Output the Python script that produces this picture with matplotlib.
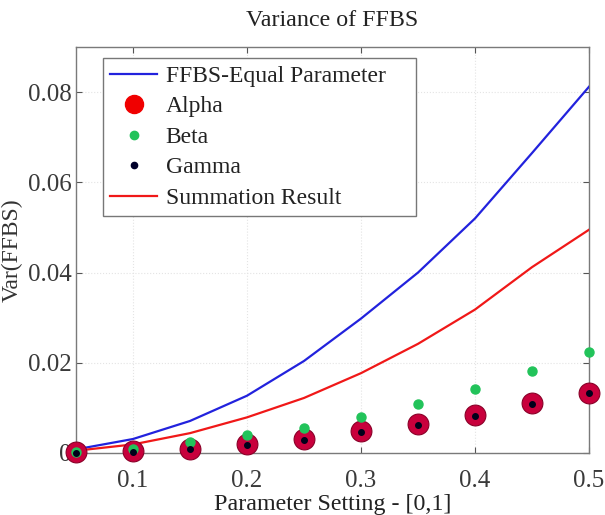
import numpy as np
import matplotlib
matplotlib.use("Agg")
import matplotlib.pyplot as plt
from matplotlib.lines import Line2D

# parameter values and variances
param = [0.05, 0.10, 0.15, 0.20, 0.25, 0.30, 0.35, 0.40, 0.45, 0.50]
ffbs_equal = [0.0008, 0.0031, 0.0071, 0.0127, 0.0204, 0.0298, 0.0400, 0.0520, 0.0665, 0.0812]
summation = [0.0005, 0.0019, 0.0044, 0.0079, 0.0122, 0.0177, 0.0242, 0.0318, 0.0412, 0.0495]
alpha = [0.0002, 0.0004, 0.0009, 0.0019, 0.0031, 0.0048, 0.0064, 0.0085, 0.0110, 0.0134]
beta = [0.0003, 0.0008, 0.0024, 0.0040, 0.0056, 0.0079, 0.0108, 0.0141, 0.0181, 0.0224]
gamma = [0.0001, 0.0003, 0.0008, 0.0017, 0.0029, 0.0046, 0.0062, 0.0083, 0.0108, 0.0132]

xticks = [0.1, 0.2, 0.3, 0.4, 0.5]
yticks = [0, 0.02, 0.04, 0.06, 0.08]
ytick_labels = ["0", "0.02", "0.04", "0.06", "0.08"]

plt.rcParams['font.family'] = ['Liberation Serif', 'DejaVu Serif']

fig = plt.figure(figsize=(6.05, 5.15), dpi=100)
ax = fig.add_axes([0.1256, 0.1204, 0.8480, 0.7883])

ax.plot(param, ffbs_equal, color='#2222dd', lw=1.6, zorder=3)
ax.plot(param, summation, color='#f01818', lw=1.6, zorder=3)
ax.plot(param, alpha, 'o', color='#c8003c', mec='#8a0028', mew=0.8, ms=15, clip_on=False, zorder=4)
ax.plot(param, beta, 'o', color='#22c35a', mec='#22c35a', ms=6.5, clip_on=False, zorder=5)
ax.plot(param, gamma, 'o', color='#00001a', mec='#00001a', ms=4, clip_on=False, zorder=6)

ax.set_xlim(0.05, 0.5)
ax.set_ylim(0, 0.09)
ax.set_xticks(xticks)
ax.set_xticklabels([f"{t:g}" for t in xticks])
ax.set_yticks(yticks)
ax.set_yticklabels(ytick_labels)
ax.tick_params(direction='in', top=True, right=True, length=4, width=0.8,
               labelsize=18, colors='#555555', labelcolor='#3a3a3a')
ax.tick_params(axis='x', pad=12)
ax.tick_params(axis='y', pad=3)
ax.grid(True, color='#e4e4e4', ls=':', lw=0.8)
for s in ax.spines.values():
    s.set_color('#7a7a7a')
    s.set_linewidth(1.0)

ax.set_title("Variance of FFBS", fontsize=17.3, color='#222222', pad=15)
ax.set_xlabel("Parameter Setting - [0,1]", fontsize=17.3, color='#222222', labelpad=2)
ax.set_ylabel("Var(FFBS)", fontsize=17, color='#333333')
ax.yaxis.set_label_coords(-0.104, 0.5)

handles = [
    Line2D([], [], color='#2222dd', lw=1.6),
    Line2D([], [], ls='', marker='o', color='#f00000', ms=13),
    Line2D([], [], ls='', marker='o', color='#22c35a', ms=6),
    Line2D([], [], ls='', marker='o', color='#00002a', ms=4.5),
    Line2D([], [], color='#f01818', lw=1.6),
]
labels = ["FFBS-Equal Parameter", "Alpha", "Beta", "Gamma", "Summation Result"]
leg = ax.legend(handles, labels, loc='upper left', bbox_to_anchor=(0.0526, 0.5, 0.610, 0.472),
                mode='expand', borderaxespad=0, fontsize=17, fancybox=False, framealpha=1,
                edgecolor='#777777', handlelength=2.0, labelspacing=0.38,
                handletextpad=0.35, borderpad=0.3)
leg.get_frame().set_linewidth(1.0)
for t in leg.get_texts():
    t.set_color('#222222')

fig.savefig("out.png", dpi=100)
